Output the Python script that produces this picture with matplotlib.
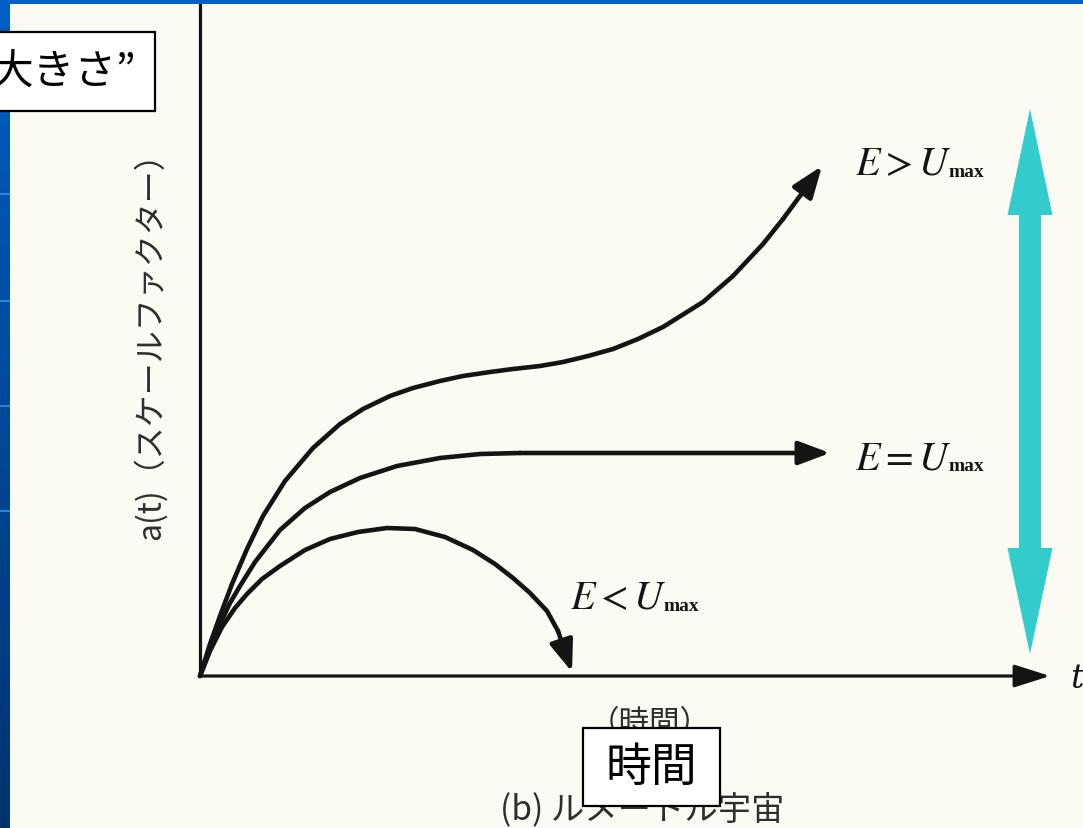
import matplotlib
matplotlib.use("Agg")
import matplotlib.pyplot as plt
from matplotlib.patches import Rectangle
import numpy as np

plt.rcParams['font.family'] = ['Noto Sans CJK JP', 'DejaVu Sans']
plt.rcParams['mathtext.fontset'] = 'stix'

# --- data (t, a(t)), origin at the axes corner ---
open_t = [0, 0.10, 0.20, 0.32, 0.47, 0.63, 0.85, 1.13, 1.40, 1.63, 1.90, 2.13, 2.40, 2.63,
          2.90, 3.13, 3.40, 3.63, 3.88, 4.13, 4.38, 4.63, 5.03, 5.33, 5.63, 5.83, 6.22]
open_a = [0, 0.32, 0.60, 0.92, 1.27, 1.60, 1.95, 2.28, 2.52, 2.67, 2.80, 2.88, 2.95, 3.00,
          3.04, 3.07, 3.10, 3.14, 3.20, 3.27, 3.37, 3.49, 3.74, 4.00, 4.32, 4.57, 5.10]

flat_t = [0, 0.10, 0.20, 0.30, 0.40, 0.55, 0.80, 1.05, 1.30, 1.60, 1.97, 2.40, 2.80, 3.20, 6.30]
flat_a = [0, 0.27, 0.52, 0.73, 0.90, 1.14, 1.46, 1.68, 1.84, 1.98, 2.10, 2.18, 2.22, 2.23, 2.23]

closed_t = [0, 0.10, 0.22, 0.35, 0.47, 0.62, 0.80, 1.05, 1.30, 1.58, 1.87, 2.15, 2.45, 2.73,
            2.95, 3.13, 3.30, 3.47, 3.58, 3.72]
closed_a = [0, 0.25, 0.49, 0.68, 0.82, 0.97, 1.10, 1.26, 1.37, 1.44, 1.48, 1.47, 1.39, 1.26,
            1.12, 0.98, 0.83, 0.65, 0.45, 0.04]

curve_labels = [r'$E > U$', r'$E = U$', r'$E < U$']
label_pos = [(6.55, 5.13), (6.55, 2.19), (3.70, 0.79)]

t_end = 8.5          # end of time axis arrow
span = (0.22, 5.67)  # cyan double arrow range

ink = '#141414'
gray = '#2e2e2e'
cream = '#fbfbf3'

fig = plt.figure(figsize=(10.83, 8.29), dpi=100, facecolor=cream)

# slide frame: blue strip on the left (drawn first, label box sits over it)
side = fig.add_axes([0, 0, 10 / 1083, 1])
grad = np.linspace(0, 1, 256).reshape(-1, 1)
cmap = matplotlib.colors.LinearSegmentedColormap.from_list('slide', ['#005fc4', '#00336e'])
side.imshow(grad, aspect='auto', cmap=cmap, extent=[0, 1, 0, 1], origin='upper')
for yy in [195, 302, 407, 512]:
    side.axhline(1 - yy / 829, color='#2a84e0', lw=1.5)
side.set_xlim(0, 1)
side.set_ylim(0, 1)
side.axis('off')

ax = fig.add_axes([0, 0, 1, 1])
ax.set_xlim(-2.0, 8.83)
ax.set_ylim(-1.52, 6.77)
ax.axis('off')

# axes of the figure
ax.plot([0, 0], [0, 6.9], color=ink, lw=2.3, solid_capstyle='butt')
ax.annotate('', xy=(t_end, 0), xytext=(0, 0),
            arrowprops=dict(arrowstyle='-|>,head_length=1.1,head_width=0.35', mutation_scale=20,
                            color=ink, lw=2.3, shrinkA=0, shrinkB=0))
ax.text(t_end + 0.2, -0.02, 't', fontsize=24, style='italic', family='DejaVu Serif',
        color=ink, ha='left', va='center')

# the three curves
for ts, av in [(open_t, open_a), (flat_t, flat_a), (closed_t, closed_a)]:
    ax.plot(ts[:-1], av[:-1], color=ink, lw=3.3, solid_capstyle='round', solid_joinstyle='round')
    ax.annotate('', xy=(ts[-1], av[-1]), xytext=(ts[-2], av[-2]),
                arrowprops=dict(arrowstyle='-|>,head_length=1.2,head_width=0.45', mutation_scale=16,
                                color=ink, lw=3.3, shrinkA=0, shrinkB=0))

label_texts = []
for lab, (x, y) in zip(curve_labels, label_pos):
    label_texts.append(ax.text(x, y, lab, fontsize=29, color=ink, ha='left', va='center'))

# cyan double arrow
mid = (span[0] + span[1]) / 2
ax.arrow(8.30, mid - 0.05, 0, span[1] - mid + 0.05, width=0.22, head_width=0.45, head_length=1.06,
         length_includes_head=True, color='#33cccc', lw=0, zorder=4)
ax.arrow(8.30, mid + 0.05, 0, span[0] - mid - 0.05, width=0.22, head_width=0.45, head_length=1.06,
         length_includes_head=True, color='#33cccc', lw=0, zorder=4)

# textbook captions (gray, partly covered)
ax.text(-0.50, 1.37, 'a(t)（スケールファクター）', rotation=90, fontsize=23, color=gray,
        ha='center', va='bottom', zorder=2)
ax.text(4.50, -0.47, '（時間）', fontsize=22, color=gray, ha='center', va='center', zorder=2)
ax.text(4.42, -1.33, '(b) ルメートル宇宙', fontsize=24, color=gray, ha='center', va='center', zorder=2)

# white label boxes
ax.add_patch(Rectangle((-2.1, 5.65), 1.65, 0.79, fc='white', ec='black', lw=1.6, zorder=5))
ax.text(-2.09, 6.04, '大きさ”', fontsize=30, color='black', ha='left', va='center', zorder=6)
ax.add_patch(Rectangle((3.83, -1.30), 1.37, 0.78, fc='white', ec='black', lw=1.6, zorder=5))
ax.text(4.515, -0.91, '時間', fontsize=33, color='black', ha='center', va='center', zorder=6)

# top blue strip
fig.patches.append(Rectangle((0, 1 - 5 / 829), 1, 5 / 829, transform=fig.transFigure,
                             fc='#0060c8', ec='none'))

# small bold "max" after each E ? U
fig.canvas.draw()
renderer = fig.canvas.get_renderer()
for txt in label_texts:
    bb = txt.get_window_extent(renderer)
    ax.annotate('max', xy=(bb.x1 - 3, bb.y0 + 3), xycoords='figure pixels', fontsize=14,
                fontweight='bold', family='Liberation Serif', color=ink, ha='left', va='bottom')

fig.savefig('out.png', dpi=100, facecolor=cream)
